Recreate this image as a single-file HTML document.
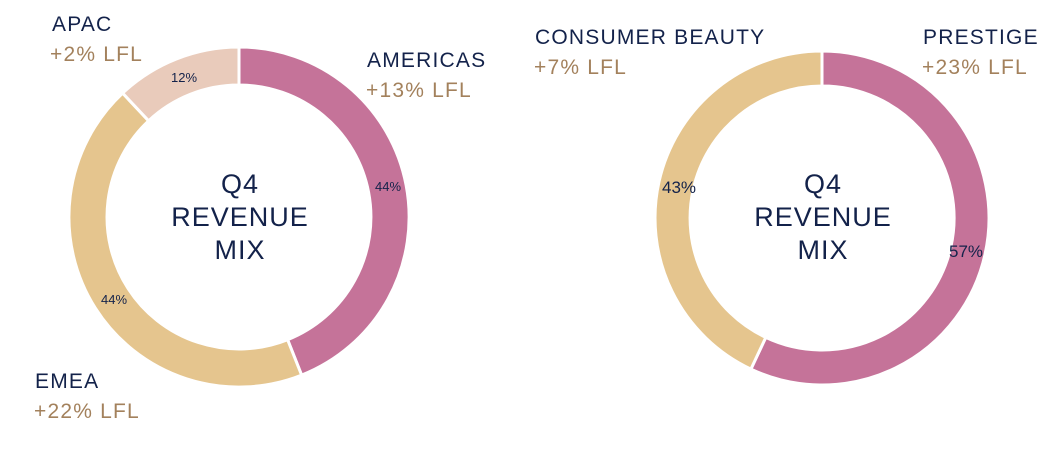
<!DOCTYPE html>
<html><head><meta charset="utf-8"><style>
html,body{margin:0;padding:0;background:#fff;}
svg{display:block;}
text{font-family:"Liberation Sans",sans-serif;}
.n{fill:#13224a;}
.t{fill:#a3815c;}
</style></head><body>
<svg width="1050" height="450" viewBox="0 0 1050 450">
<g stroke="#fff" stroke-width="3" stroke-linejoin="miter">
<path d="M239,47 A170,170 0 0 1 301.6,375.1 L287.6,339.7 A132,132 0 0 0 239,85 Z" fill="#c57399"/>
<path d="M301.6,375.1 A170,170 0 0 1 122.6,93.1 L148.6,120.8 A132,132 0 0 0 287.6,339.7 Z" fill="#e5c58e"/>
<path d="M122.6,93.1 A170,170 0 0 1 239,47 L239,85 A132,132 0 0 0 148.6,120.8 Z" fill="#e9cbbb"/>
<path d="M822,51 A167,167 0 1 1 750.9,369.1 L765.8,337.4 A132,132 0 1 0 822,86 Z" fill="#c57399"/>
<path d="M750.9,369.1 A167,167 0 0 1 822,51 L822,86 A132,132 0 0 0 765.8,337.4 Z" fill="#e5c58e"/>
</g>
<g class="n" font-size="27" text-anchor="middle" letter-spacing="1">
<text x="240" y="193">Q4</text><text x="240" y="226">REVENUE</text><text x="240" y="259">MIX</text>
<text x="823" y="193">Q4</text><text x="823" y="226">REVENUE</text><text x="823" y="259">MIX</text>
</g>
<g class="n" font-size="13" text-anchor="middle">
<text x="184" y="82">12%</text>
<text x="388" y="191">44%</text>
<text x="114" y="304">44%</text>
</g>
<g class="n" font-size="17" text-anchor="middle">
<text x="679" y="193">43%</text>
<text x="966" y="257">57%</text>
</g>
<g font-size="21" letter-spacing="1.2">
<text class="n" x="52" y="31">APAC</text><text class="t" x="50" y="61">+2% LFL</text>
<text class="n" x="367" y="67">AMERICAS</text><text class="t" x="366" y="97">+13% LFL</text>
<text class="n" x="35" y="388">EMEA</text><text class="t" x="34" y="418">+22% LFL</text>
<text class="n" x="535" y="44">CONSUMER BEAUTY</text><text class="t" x="534" y="74">+7% LFL</text>
<text class="n" x="923" y="44">PRESTIGE</text><text class="t" x="922" y="74">+23% LFL</text>
</g>
</svg>
</body></html>
